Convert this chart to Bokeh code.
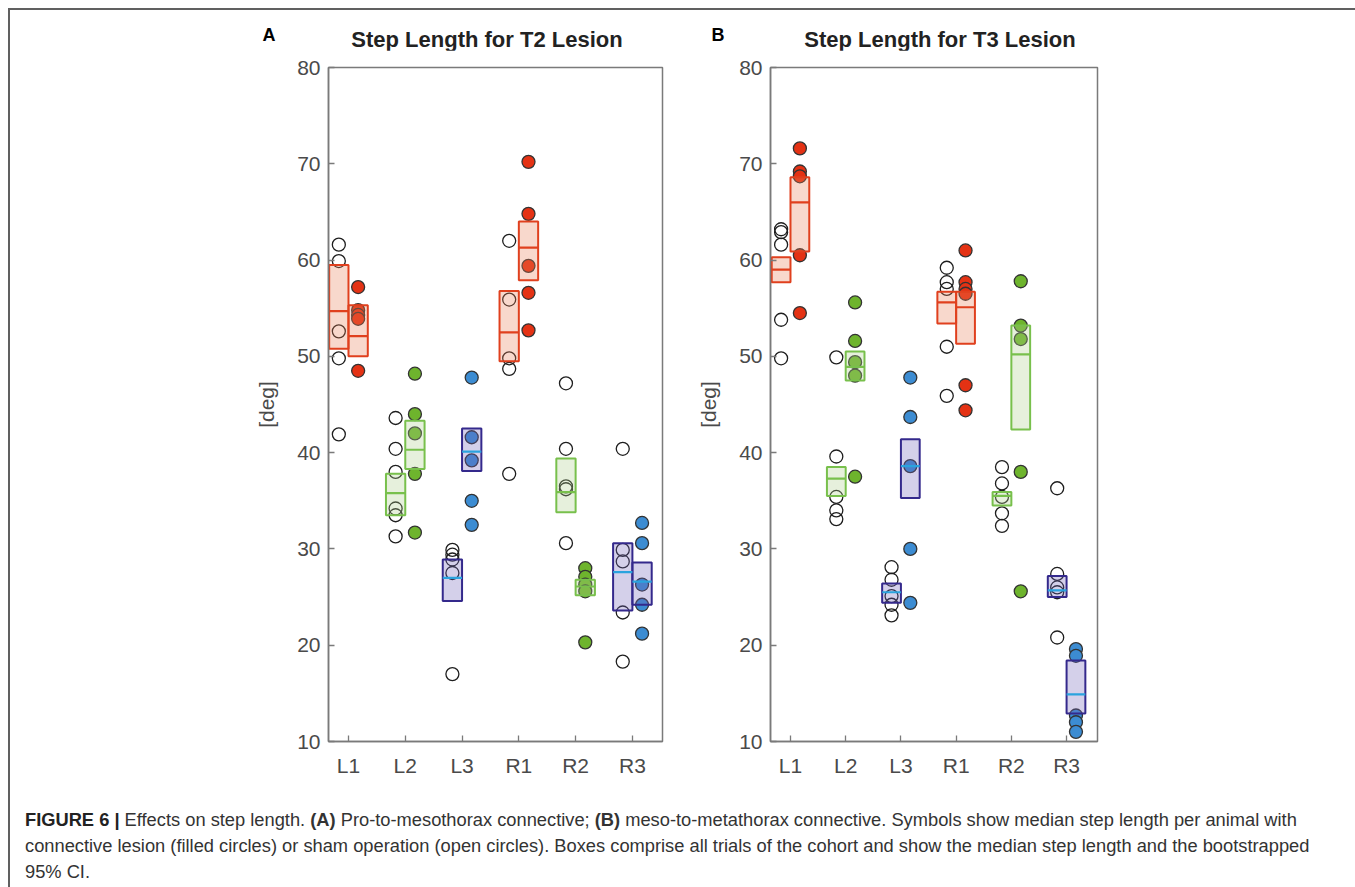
from bokeh.plotting import figure
from bokeh.models import Range1d, FixedTicker, Div, Spacer
from bokeh.layouts import row, column
from bokeh.embed import file_html
from bokeh.resources import INLINE

# ---------------- data ----------------
legs = ["L1", "L2", "L3", "R1", "R2", "R3"]

# Panel A: T2 lesion - median step length per animal [deg]
t2_sham = [
    [61.6, 59.9, 52.6, 49.8, 41.9],
    [43.6, 40.4, 38.0, 34.2, 33.5, 31.3],
    [29.9, 29.4, 28.9, 27.5, 17.0],
    [62.0, 55.9, 49.8, 48.7, 37.8],
    [47.2, 40.4, 36.5, 36.2, 30.6],
    [40.4, 29.9, 28.7, 23.4, 18.3],
]
t2_lesion = [
    [57.2, 54.8, 54.3, 53.9, 48.5],
    [48.2, 44.0, 42.0, 37.8, 31.7],
    [47.8, 41.6, 39.2, 35.0, 32.5],
    [70.2, 64.8, 59.4, 56.6, 52.7],
    [28.0, 27.1, 26.3, 25.6, 20.3],
    [32.7, 30.6, 26.3, 24.2, 21.2],
]
t2_sham_ci_lo = [50.8, 33.5, 24.6, 49.5, 33.8, 23.6]
t2_sham_median = [54.7, 35.8, 27.0, 52.5, 35.9, 27.6]
t2_sham_ci_hi = [59.5, 37.8, 28.9, 56.8, 39.4, 30.6]
t2_lesion_ci_lo = [50.0, 38.3, 38.1, 57.9, 25.2, 24.2]
t2_lesion_median = [52.1, 40.3, 40.1, 61.3, 26.1, 26.6]
t2_lesion_ci_hi = [55.3, 43.3, 42.5, 64.0, 26.8, 28.6]

# Panel B: T3 lesion
t3_sham = [
    [63.2, 62.9, 61.6, 53.8, 49.8],
    [49.9, 39.6, 35.4, 34.0, 33.1],
    [28.1, 26.8, 25.1, 24.2, 23.1],
    [59.2, 57.7, 57.0, 51.0, 45.9],
    [38.5, 36.8, 35.4, 33.7, 32.4],
    [36.3, 27.4, 26.0, 25.5, 20.8],
]
t3_lesion = [
    [71.6, 69.2, 68.7, 60.5, 54.5],
    [55.6, 51.6, 49.4, 48.0, 37.5],
    [47.8, 43.7, 38.6, 30.0, 24.4],
    [61.0, 57.7, 57.0, 56.5, 47.0, 44.4],
    [57.8, 53.2, 51.8, 38.0, 25.6],
    [19.6, 18.9, 12.7, 12.0, 11.0],
]
t3_sham_ci_lo = [57.7, 35.5, 24.4, 53.4, 34.5, 25.0]
t3_sham_median = [59.0, 37.3, 25.5, 55.6, 35.5, 25.7]
t3_sham_ci_hi = [60.3, 38.5, 26.4, 56.7, 35.9, 27.2]
t3_lesion_ci_lo = [60.9, 47.5, 35.3, 51.3, 42.4, 12.9]
t3_lesion_median = [66.0, 48.9, 38.6, 55.1, 50.2, 14.9]
t3_lesion_ci_hi = [68.6, 50.5, 41.4, 56.7, 53.2, 18.4]

y_ticks = [10, 20, 30, 40, 50, 60, 70, 80]

panel_titles = ["Step Length for T2 Lesion", "Step Length for T3 Lesion"]
panel_letters = ["A", "B"]

# ---------------- styles ----------------
FONT = "Liberation Sans"
AX = "#7a7a7a"
marker_fill = {"L1": "#e43214", "R1": "#e43214", "L2": "#6eb42d", "R2": "#6eb42d",
               "L3": "#3c8cd2", "R3": "#3c8cd2"}
box_fill = {"L1": "#e77d55", "R1": "#e77d55", "L2": "#accd8a", "R2": "#accd8a",
            "L3": "#7062b9", "R3": "#7062b9"}
box_line = {"L1": "#e0401e", "R1": "#e0401e", "L2": "#78c04c", "R2": "#78c04c",
            "L3": "#34298c", "R3": "#34298c"}
med_line = {"L1": "#e0401e", "R1": "#e0401e", "L2": "#78c04c", "R2": "#78c04c",
            "L3": "#2aa3de", "R3": "#2aa3de"}
OFF = 0.17
BW = 0.34


def make_panel(sham, lesion, s_lo, s_med, s_hi, l_lo, l_med, l_hi, xr, mbl, mbr, fw):
    p = figure(width=mbl + fw + mbr, height=745, x_range=Range1d(*xr),
               y_range=Range1d(10, 80), output_backend="svg", toolbar_location=None,
               min_border_left=mbl, min_border_right=mbr, min_border_top=17,
               min_border_bottom=54, margin=0)
    p.background_fill_color = "white"
    p.border_fill_color = "white"
    p.grid.visible = False
    p.outline_line_color = AX
    p.outline_line_width = 1.5

    for i, leg in enumerate(legs):
        xs = [i + 1 - OFF] * len(sham[i])
        p.scatter(xs, sham[i], size=13, marker="circle", fill_color=None,
                  line_color="#1e1e1e", line_width=1.3)
        xl = [i + 1 + OFF] * len(lesion[i])
        p.scatter(xl, lesion[i], size=13, marker="circle", fill_color=marker_fill[leg],
                  line_color="#333333", line_width=1.3)
    for i, leg in enumerate(legs):
        c = i + 1
        p.quad(left=[c - BW, c], right=[c, c + BW], bottom=[s_lo[i], l_lo[i]],
               top=[s_hi[i], l_hi[i]], fill_color=box_fill[leg], fill_alpha=0.3,
               line_color=box_line[leg], line_width=2)
        p.segment(x0=[c - BW, c], x1=[c, c + BW], y0=[s_med[i], l_med[i]],
                  y1=[s_med[i], l_med[i]], line_color=med_line[leg], line_width=2.2)

    p.xaxis.ticker = FixedTicker(ticks=list(range(1, len(legs) + 1)))
    p.xaxis.major_label_overrides = {i + 1: leg for i, leg in enumerate(legs)}
    p.yaxis.ticker = FixedTicker(ticks=y_ticks)
    for ax in (p.xaxis, p.yaxis):
        ax.axis_line_color = AX
        ax.axis_line_width = 1.5
        ax.major_tick_line_color = AX
        ax.major_tick_line_width = 1.3
        ax.major_tick_in = 6
        ax.major_tick_out = 0
        ax.minor_tick_line_color = None
        ax.major_label_text_font = FONT
        ax.major_label_text_font_size = "21px"
        ax.major_label_text_color = "#4a4a4a"
    p.xaxis.major_label_standoff = 12
    p.yaxis.major_label_standoff = 8
    p.yaxis.axis_label = "[deg]"
    p.yaxis.axis_label_text_font = FONT
    p.yaxis.axis_label_text_font_size = "21px"
    p.yaxis.axis_label_text_font_style = "normal"
    p.yaxis.axis_label_text_color = "#4a4a4a"
    p.yaxis.axis_label_standoff = 16
    return p


pA = make_panel(t2_sham, t2_lesion, t2_sham_ci_lo, t2_sham_median, t2_sham_ci_hi,
                t2_lesion_ci_lo, t2_lesion_median, t2_lesion_ci_hi,
                (0.648, 6.53), 318, 20, 334)
pB = make_panel(t3_sham, t3_lesion, t3_sham_ci_lo, t3_sham_median, t3_sham_ci_hi,
                t3_lesion_ci_lo, t3_lesion_median, t3_lesion_ci_hi,
                (0.638, 6.56), 88, 250, 327)

FF = "font-family:'Liberation Sans',Arial,sans-serif;"


def span(txt, cx, cy, size, weight="bold", color="#222"):
    return ('<span style="position:absolute;left:%dpx;top:%dpx;transform:translate(-50%%,-50%%);'
            'white-space:nowrap;line-height:1;font-size:%spx;font-weight:%s;color:%s;">%s</span>'
            % (cx, cy, size, weight, color, txt))


header_html = ('<div style="position:relative;width:1337px;height:40px;%s">' % FF
               + span(panel_letters[0], 259, 25, 18, color="#000")
               + span(panel_titles[0], 477, 30, 22)
               + span(panel_letters[1], 708, 25, 18, color="#000")
               + span(panel_titles[1], 930, 30, 22)
               + '</div>')
header = Div(text=header_html, width=1337, height=40, margin=0,
             styles={"overflow": "visible"})

caption_html = (
    '<div style="%sfont-size:18.3px;line-height:26px;color:#333;white-space:nowrap;'
    'padding-left:15px;padding-top:12px;margin:0;">' % FF
    + '<b style="color:#222">FIGURE 6 |</b> Effects on step length. <b>(A)</b> '
    'Pro-to-mesothorax connective; <b>(B)</b> meso-to-metathorax connective. Symbols show '
    'median step length per animal with<br>connective lesion (filled circles) or sham '
    'operation (open circles). Boxes comprise all trials of the cohort and show the median '
    'step length and the bootstrapped<br>95% CI.</div>'
)
caption = Div(text=caption_html, width=1337, height=92, margin=0,
              styles={"overflow": "hidden"})

bar_style = {"background-color": "#606060", "font-size": "0px", "line-height": "0px"}
left_bar = Div(text="", width=2, height=879, margin=0, styles=bar_style)
top_bar = Div(text="", width=1345, height=2, margin=0, styles=bar_style)

inner = column(top_bar, header, row(pA, pB), caption)
layout = column(Spacer(width=1355, height=8, margin=0),
                row(Spacer(width=8, height=879, margin=0), left_bar, inner))

open("out.html", "w").write(file_html(layout, INLINE))
